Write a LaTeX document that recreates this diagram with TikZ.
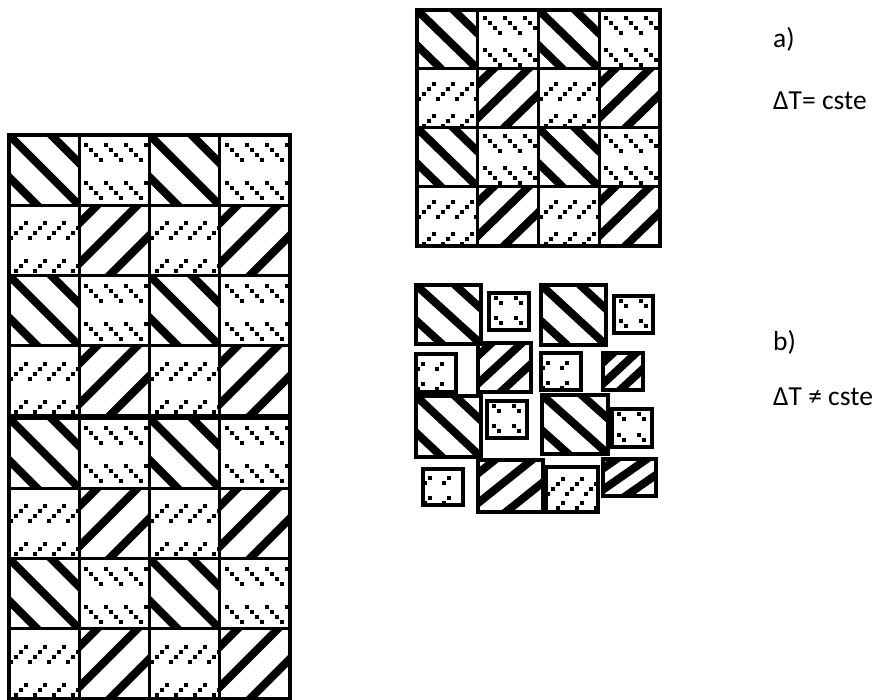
\documentclass[tikz,border=0pt]{standalone}
\usepackage{fontspec}
\setmainfont{Carlito}
\usepackage{tikz}
\usetikzlibrary{positioning}

\begin{document}
\begin{tikzpicture}[
  x=1pt, y=-1pt,
  tileframe/.style={draw=black, line width=3pt},
  gridframe/.style={draw=black, line width=4pt},
  band/.style={line width=8pt},
  dot/.style={line width=4pt, line cap=rect},
  caption/.style={anchor=base west, inner sep=0pt, font=\fontsize{27.5}{33}\selectfont},
  pics/stripesdown/.style 2 args={code={
    \begin{scope}[xscale=#1/70, yscale=#2/70]
      \begin{scope}
        \clip (0,0) rectangle (70,70);
        \foreach \c in {-42,0,42} \draw[band] ({-10},{-10+\c}) -- ({80},{80+\c});
      \end{scope}
      \draw[tileframe] (0,0) rectangle (70,70);
    \end{scope}
  }},
  pics/stripesup/.style 2 args={code={
    \begin{scope}[xscale=#1/70, yscale=#2/70]
      \begin{scope}
        \clip (0,0) rectangle (70,70);
        \foreach \c in {18,58,100} \draw[band] ({\c+10},{-10}) -- ({-10},{\c+10});
      \end{scope}
      \draw[tileframe] (0,0) rectangle (70,70);
    \end{scope}
  }},
  % dots keep their own spacing, only the rows follow the tile height
  pics/dotsdown/.style 2 args={code={
    \pgfmathtruncatemacro\ndots{#1>50 ? 3 : 1}
    \begin{scope}
      \clip (0,0) rectangle (#1,#2);
      \foreach \u in {7,27,47,67} \foreach \v in {10,48} \foreach \k in {0,...,\ndots}
        \draw[dot] ({\u+5*\k},{\v*#2/70+5*\k}) -- ++(0.01,0);
    \end{scope}
    \draw[tileframe] (0,0) rectangle (#1,#2);
  }},
  pics/dotsup/.style 2 args={code={
    \pgfmathtruncatemacro\ndots{#1>50 ? 3 : 1}
    \begin{scope}
      \clip (0,0) rectangle (#1,#2);
      \foreach \u in {2,21,40,59} \foreach \v in {18,56} \foreach \k in {0,...,\ndots}
        \draw[dot] ({\u+5*\k},{\v*#2/70+5*(\ndots-\k)}) -- ++(0.01,0);
    \end{scope}
    \draw[tileframe] (0,0) rectangle (#1,#2);
  }}
]
\useasboundingbox (0,0) rectangle (880,700);

% a) regular pattern, and the long column on the left
\foreach \gx/\gy/\w/\h in {417/10/60.75/59, 9/135/70.25/70.25, 9/418/70.25/70.25} {
  \foreach \r in {0,2} \foreach \c in {0,2} {
    \pic at ({\gx+\w*\c},{\gy+\h*\r}) {stripesdown={\w}{\h}};
    \pic at ({\gx+\w*(\c+1)},{\gy+\h*\r}) {dotsdown={\w}{\h}};
    \pic at ({\gx+\w*\c},{\gy+\h*(\r+1)}) {dotsup={\w}{\h}};
    \pic at ({\gx+\w*(\c+1)},{\gy+\h*(\r+1)}) {stripesup={\w}{\h}};
  }
  \draw[gridframe] (\gx,\gy) rectangle ++({4*\w},{4*\h});
}

% b) the tiles after shrinking
\begin{scope}[tileframe/.append style={line width=3.5pt}]
  \foreach \x/\y/\w/\h in {416/285/65/59, 541/285/65/60, 416/396/65/61, 542/395/66/59}
    \pic at (\x,\y) {stripesdown={\w}{\h}};
  \foreach \x/\y/\w/\h in {489/293/40/37, 614/296/39/37, 487/401/40/37, 612/409/40/38}
    \pic at (\x,\y) {dotsdown={\w}{\h}};
  \foreach \x/\y/\w/\h in {416/354/40/38, 541/353/40/37, 423/469/40/36, 546/467/52/45}
    \pic at (\x,\y) {dotsup={\w}{\h}};
  \foreach \x/\y/\w/\h in {478/343/53/49, 603/353/40/37, 478/460/65/52, 603/459/53/37}
    \pic at (\x,\y) {stripesup={\w}{\h}};
\end{scope}

\node[caption] (capa) at (773,48) {a)};
\node[caption] (deltaa) at (773,110) {ΔT= cste};
\node[caption] (capb) at (773,350) {b)};
\node[caption] (deltab) at (773,405) {ΔT ≠ cste};
\end{tikzpicture}
\end{document}
